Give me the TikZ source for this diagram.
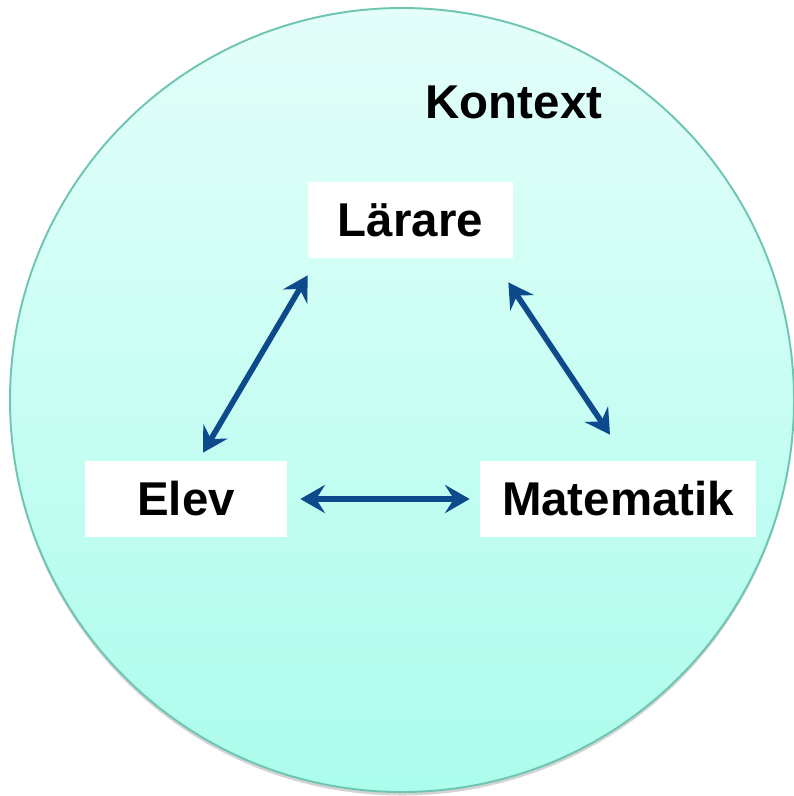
\documentclass[tikz,border=0pt]{standalone}
\usepackage{fontspec}
\setmainfont{Liberation Sans}
\usetikzlibrary{arrows.meta,shadows}

\definecolor{linkblue}{RGB}{12,74,140}
\definecolor{rimteal}{RGB}{110,198,178}
\definecolor{topmint}{RGB}{228,254,250}
\definecolor{lowmint}{RGB}{172,253,236}

\begin{document}
\begin{tikzpicture}[x=0.02cm, y=-0.02cm]

% styles
\tikzset{
  label/.style={fill=white, inner sep=0pt, minimum height=76*0.02cm,
    font=\fontsize{27}{32}\selectfont\bfseries},
  link/.style={{Stealth[length=14pt, width=16pt, inset=5pt]}-{Stealth[length=14pt, width=16pt, inset=5pt]},
    line width=3.2pt, draw=linkblue},
}

\useasboundingbox (0,0) rectangle (794,796);

% context circle
\shade[top color=topmint, bottom color=lowmint, draw=rimteal, line width=1.1pt,
  drop shadow={shadow xshift=0pt, shadow yshift=-2pt, opacity=0.35}]
  (402,400) circle (392);
\node[font=\fontsize{27}{32}\selectfont\bfseries] (kontext) at (514,102) {Kontext};

% the three corners
\node[label, minimum width=205*0.02cm] (larare) at (410.5,220) {Lärare};
\node[label, minimum width=202*0.02cm] (elev) at (186,499) {Elev};
\node[label, minimum width=276*0.02cm] (matte) at (618,499) {Matematik};

% relations
\draw[link] ([yshift=-17*0.02cm]larare.south west) -- ([shift={(17*0.02cm,8*0.02cm)}]elev.north);
\draw[link] ([shift={(-5*0.02cm,-24*0.02cm)}]larare.south east) -- ([shift={(-8*0.02cm,26*0.02cm)}]matte.north);
\draw[link] ([xshift=13*0.02cm]elev.east) -- ([xshift=-10*0.02cm]matte.west);

\end{tikzpicture}
\end{document}
